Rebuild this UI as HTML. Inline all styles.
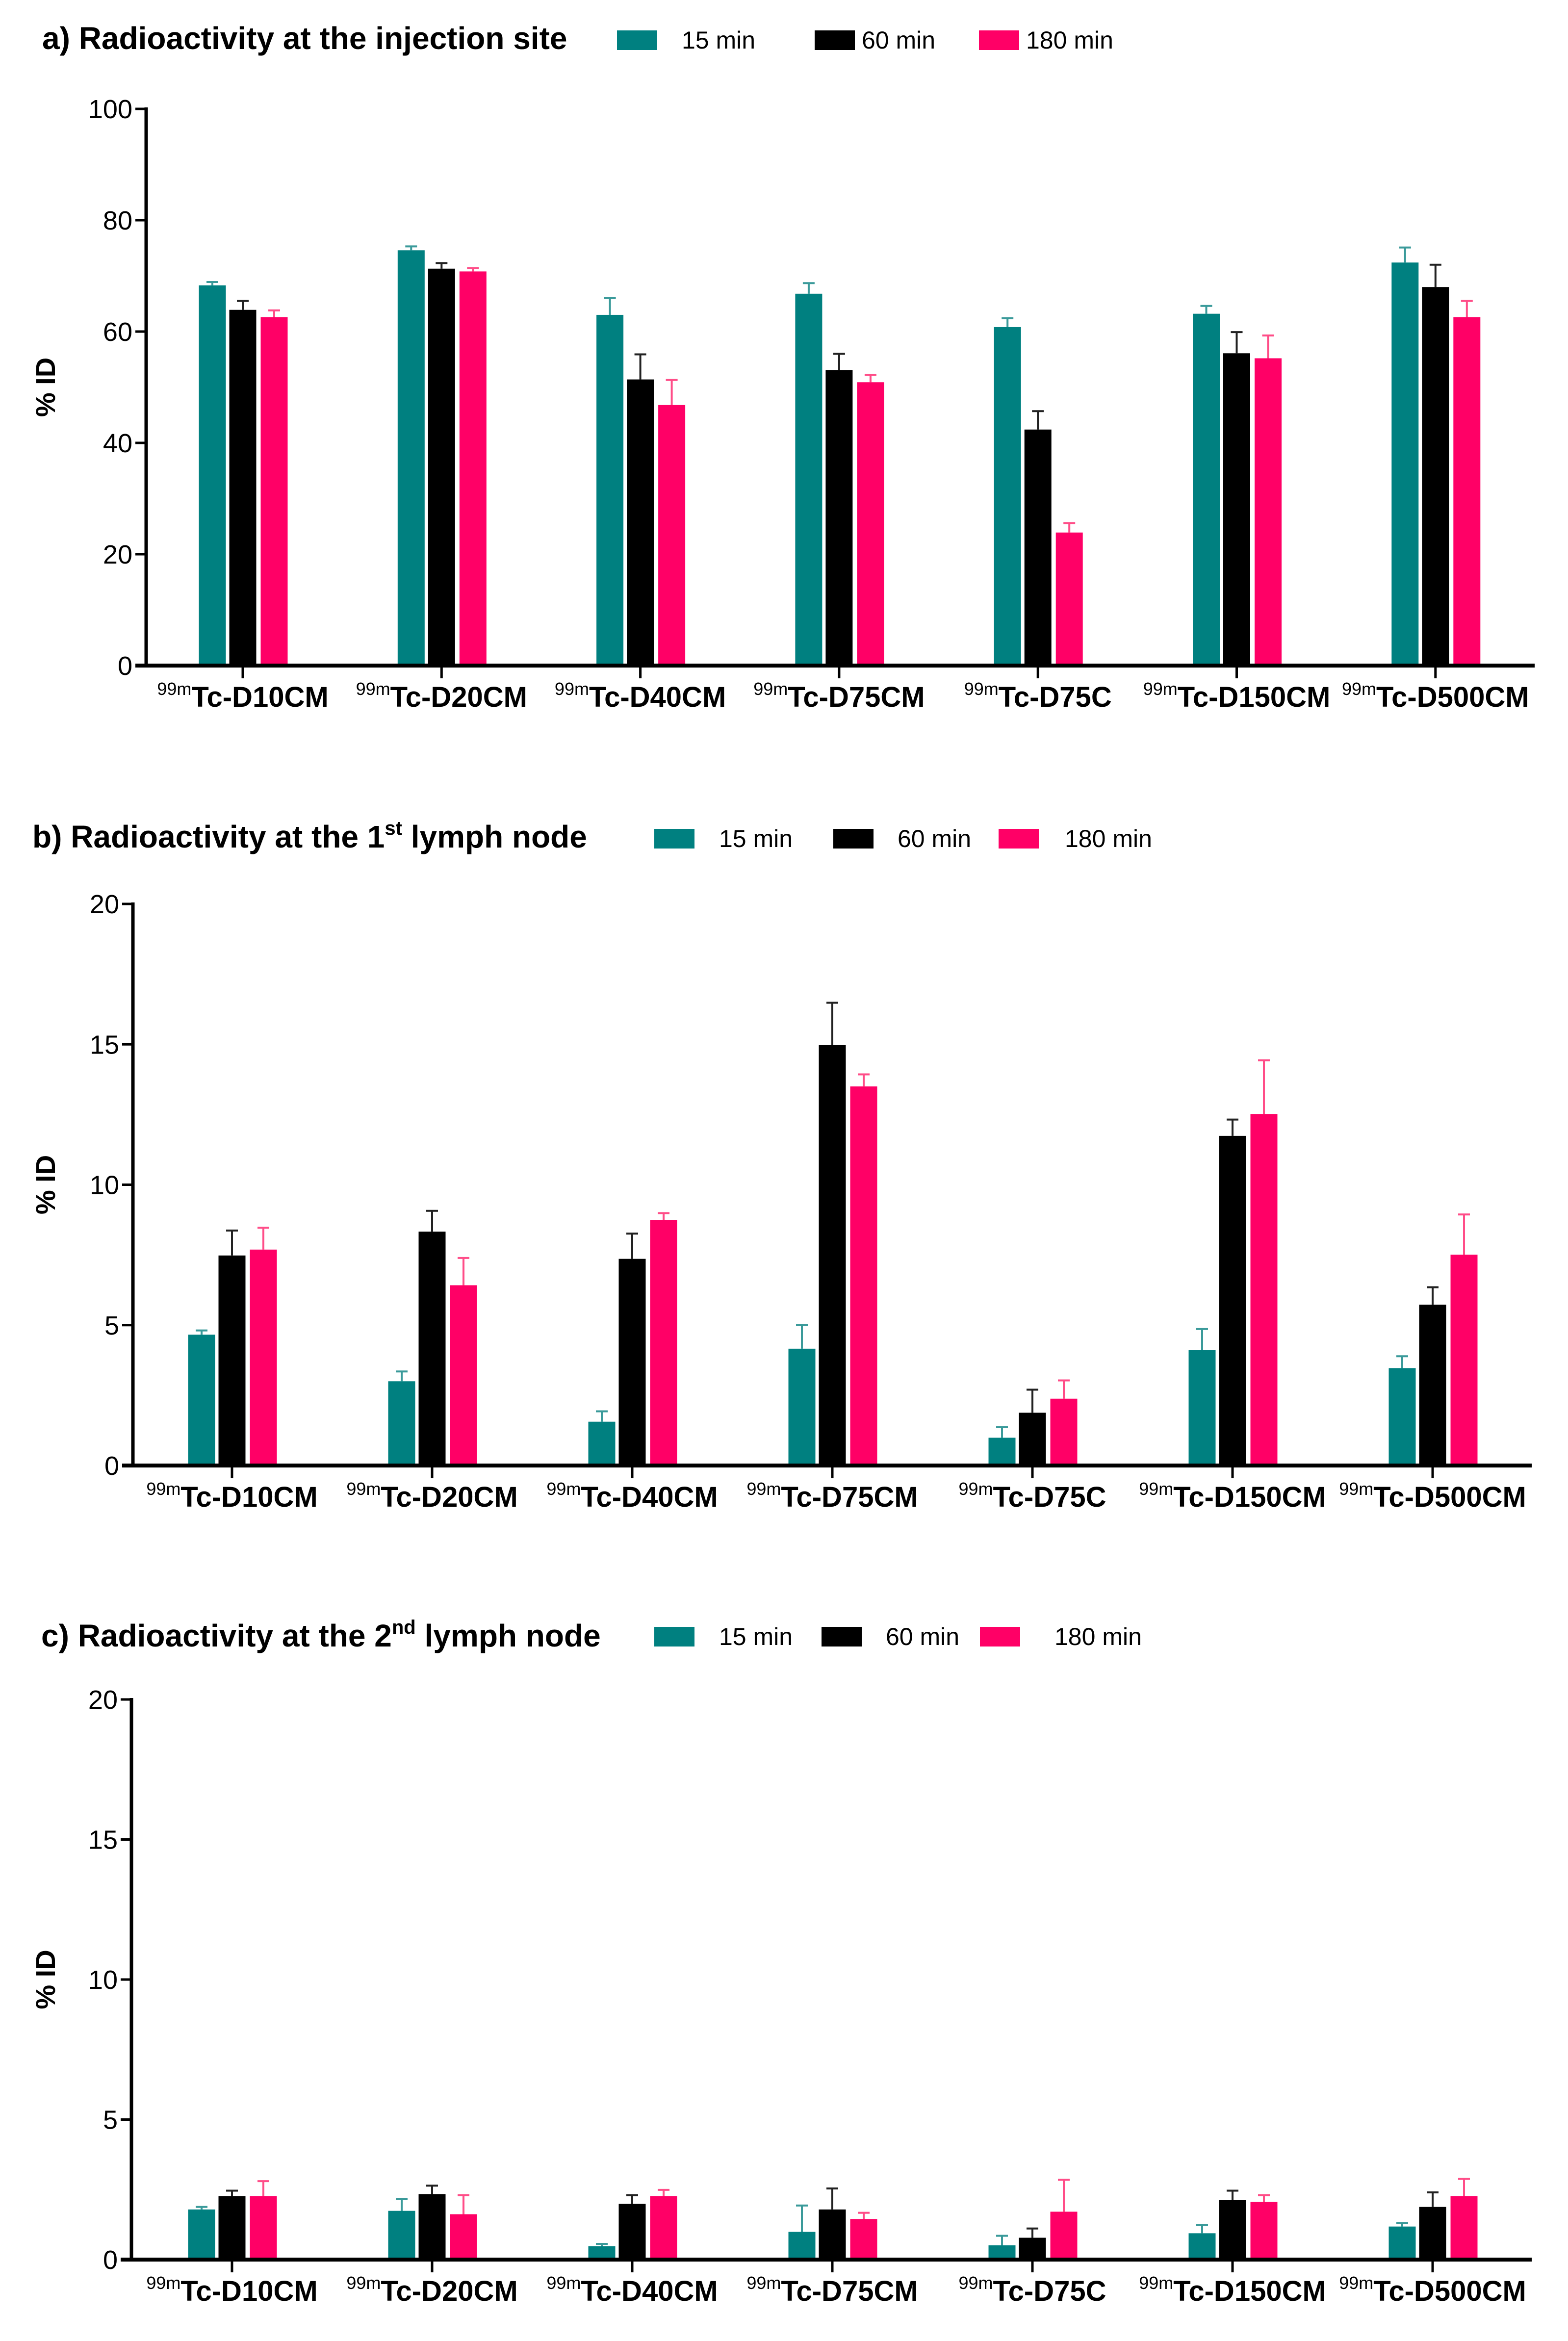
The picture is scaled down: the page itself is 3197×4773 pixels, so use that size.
<!DOCTYPE html>
<html><head><meta charset="utf-8"><style>
html,body{margin:0;padding:0;background:#fff;}
svg{display:block;font-family:"Liberation Sans",Arial,sans-serif;}
</style></head><body>
<svg id="chart" width="3197" height="4773" viewBox="0 0 3197 4773" xmlns="http://www.w3.org/2000/svg"></svg>
<script>
const categories = ["Tc-D10CM","Tc-D20CM","Tc-D40CM","Tc-D75CM","Tc-D75C","Tc-D150CM","Tc-D500CM"];
const seriesNames = ["15 min","60 min","180 min"];
const seriesColors = ["#008080","#000000","#ff0066"];
const errColors = ["#3a9a9a","#222222","#ff4d88"];
// panel a
const a15 = [68.3,74.6,63.0,66.8,60.8,63.2,72.4];
const a60 = [63.9,71.3,51.4,53.1,42.4,56.1,68.0];
const a180 = [62.6,70.8,46.8,50.9,23.9,55.2,62.6];
const a15e = [68.9,75.3,66.0,68.7,62.4,64.6,75.1];
const a60e = [65.5,72.3,55.9,56.0,45.7,59.9,72.0];
const a180e = [63.8,71.4,51.3,52.2,25.6,59.3,65.5];
const aTicks = [0,20,40,60,80,100];
// panel b
const b15 = [4.66,3.0,1.56,4.16,0.99,4.11,3.47];
const b60 = [7.48,8.33,7.36,14.97,1.88,11.74,5.73];
const b180 = [7.69,6.42,8.75,13.5,2.38,12.52,7.51];
const b15e = [4.81,3.35,1.93,5.0,1.37,4.86,3.89];
const b60e = [8.37,9.07,8.26,16.48,2.7,12.32,6.35];
const b180e = [8.47,7.39,8.99,13.93,3.03,14.43,8.94];
const bTicks = [0,5,10,15,20];
// panel c
const c15 = [1.79,1.74,0.48,0.99,0.51,0.94,1.18];
const c60 = [2.27,2.34,1.99,1.79,0.78,2.13,1.88];
const c180 = [2.27,1.62,2.27,1.45,1.71,2.06,2.27];
const c15e = [1.88,2.17,0.56,1.93,0.85,1.24,1.31];
const c60e = [2.46,2.64,2.30,2.54,1.11,2.46,2.40];
const c180e = [2.80,2.30,2.49,1.67,2.85,2.30,2.88];
const cTicks = [0,5,10,15,20];

const NS="http://www.w3.org/2000/svg";
const svg=document.getElementById('chart');
function mk(tag,attrs,parent){const e=document.createElementNS(NS,tag);for(const k in attrs)e.setAttribute(k,attrs[k]);(parent||svg).appendChild(e);return e;}

function panel(cfg){
  const g=mk('g',{});
  
  
  const yS=v=>cfg.y0-(v/cfg.max)*(cfg.y0-cfg.yTop);
  const xS=i=>cfg.x0+i*cfg.dx;
  const t=mk('text',{x:cfg.tx,y:cfg.ty,'font-size':64,'font-weight':'bold'},g);
  
  
  t.innerHTML=cfg.title;
  for(let s=0;s<3;s++){
    const r=mk('rect',{x:cfg.lx[s],y:cfg.ly-20,width:82,height:40,fill:seriesColors[s]},g);
    
    
    const lt=mk('text',{x:cfg.ltx[s],y:cfg.ly+17,'font-size':50},g);
    
    
    lt.textContent=seriesNames[s];
  }
  const vals=[cfg.v15,cfg.v60,cfg.v180], errs=[cfg.e15,cfg.e60,cfg.e180], offs=[-62,0,64], bw=55;
  for(let i=0;i<categories.length;i++){
    for(let s=0;s<3;s++){
      const cx=xS(i)+offs[s];
      const eb=mk('line',{x1:cx,x2:cx,y1:yS(vals[s][i]),y2:yS(errs[s][i]),stroke:errColors[s],'stroke-width':4},g);
      
      
      const ec=mk('line',{x1:cx-12,x2:cx+12,y1:yS(errs[s][i]),y2:yS(errs[s][i]),stroke:errColors[s],'stroke-width':4},g);
      
      
      const b=mk('rect',{x:cx-bw/2,y:yS(vals[s][i]),width:bw,height:cfg.y0-yS(vals[s][i]),fill:seriesColors[s]},g);
      
      
    }
    const tk=mk('line',{x1:xS(i),x2:xS(i),y1:cfg.y0,y2:cfg.y0+26,stroke:'#000','stroke-width':5},g);
    
    
    const lb=mk('text',{x:xS(i),y:cfg.y0+84,'text-anchor':'middle','font-size':58,'font-weight':'bold'},g);
    
    
    lb.innerHTML='<tspan font-size="36" font-weight="normal" dy="-24">99m</tspan><tspan dy="24">'+categories[i]+'</tspan>';
  }
  const ya=mk('line',{x1:cfg.ax,x2:cfg.ax,y1:cfg.yTop-3,y2:cfg.y0+3,stroke:'#000','stroke-width':7},g);
  
  
  const xa=mk('line',{x1:cfg.ax-22,x2:cfg.xEnd,y1:cfg.y0,y2:cfg.y0,stroke:'#000','stroke-width':8},g);
  
  
  for(const v of cfg.ticks){
    const yt=mk('line',{x1:cfg.ax-22,x2:cfg.ax,y1:yS(v),y2:yS(v),stroke:'#000','stroke-width':5},g);
    
    
    const yl=mk('text',{x:cfg.ax-28,y:yS(v)+19,'text-anchor':'end','font-size':54},g);
    
    
    yl.textContent=v;
  }
  const cy=(cfg.y0+cfg.yTop)/2;
  const yt=mk('text',{x:0,y:0,transform:`translate(112,${cy}) rotate(-90)`,'text-anchor':'middle','font-size':56,'font-weight':'bold'},g);
  
  
  yt.textContent='% ID';
}

panel({id:'panel-a',title:'a) Radioactivity at the injection site',tx:86,ty:100,
  lx:[1258,1661,1996],ltx:[1390,1757,2092],ly:82,
  ax:298,y0:1357,yTop:222,max:100,ticks:aTicks,x0:495,dx:405.3,xEnd:3129,
  v15:a15,v60:a60,v180:a180,e15:a15e,e60:a60e,e180:a180e});
panel({id:'panel-b',title:'b) Radioactivity at the 1<tspan font-size="40" dy="-26">st</tspan><tspan dy="26"> lymph node</tspan>',tx:66,ty:1728,
  lx:[1334,1699,2036],ltx:[1466,1830,2171],ly:1710,
  ax:271,y0:2988,yTop:1843,max:20,ticks:bTicks,x0:473,dx:408,xEnd:3123,
  v15:b15,v60:b60,v180:b180,e15:b15e,e60:b60e,e180:b180e});
panel({id:'panel-c',title:'c) Radioactivity at the 2<tspan font-size="40" dy="-26">nd</tspan><tspan dy="26"> lymph node</tspan>',tx:84,ty:3357,
  lx:[1334,1675,1998],ltx:[1466,1806,2150],ly:3337,
  ax:268,y0:4607,yTop:3465,max:20,ticks:cTicks,x0:473,dx:408,xEnd:3123,
  v15:c15,v60:c60,v180:c180,e15:c15e,e60:c60e,e180:c180e});
</script>
</body></html>
